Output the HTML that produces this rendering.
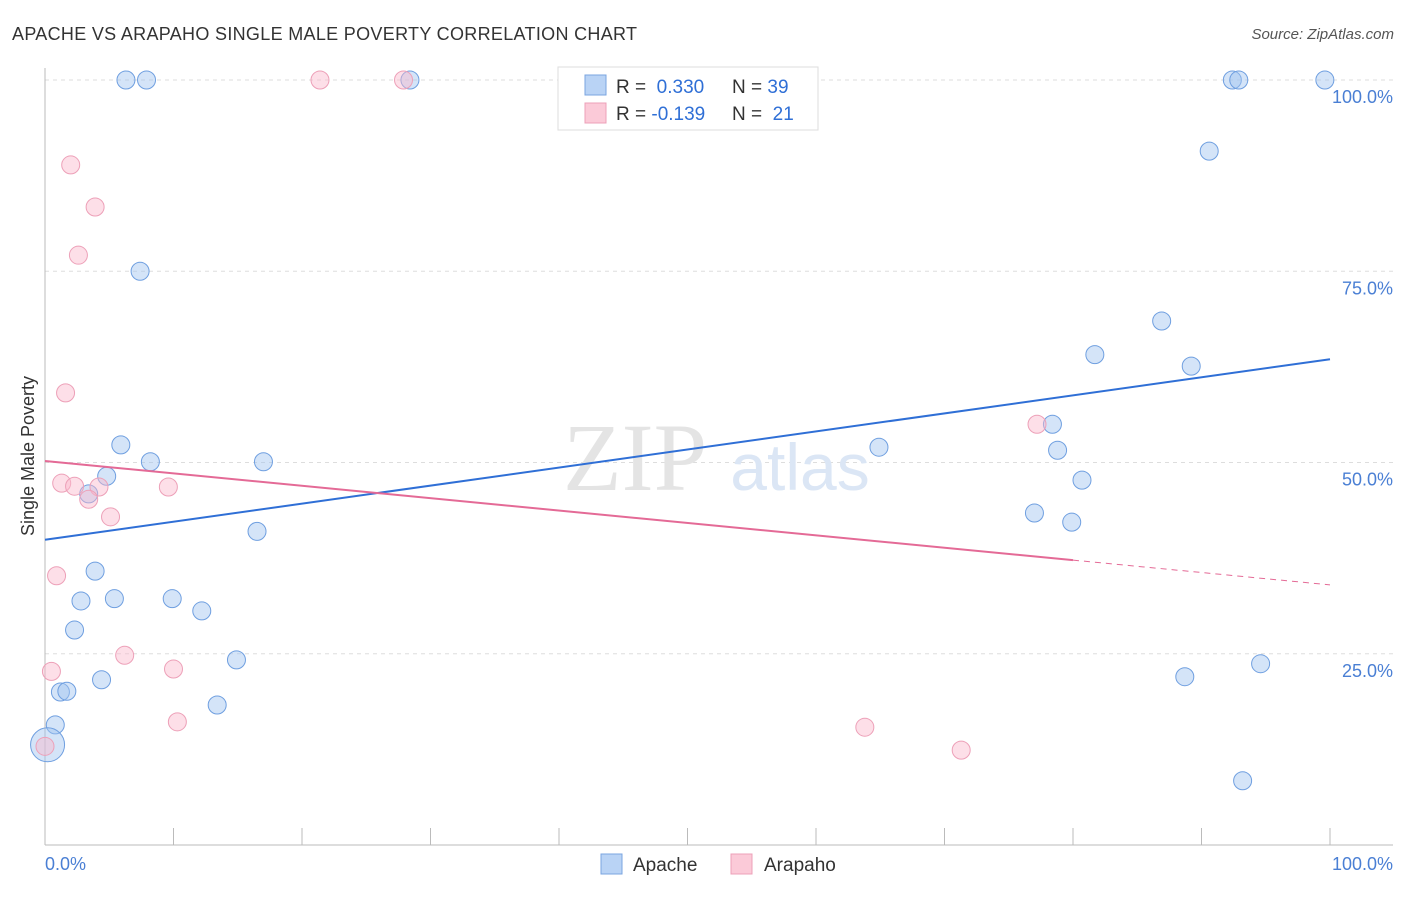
<!DOCTYPE html>
<html><head><meta charset="utf-8"><style>
body{margin:0;background:#fff;font-family:"Liberation Sans",sans-serif}
</style></head><body>
<svg width="1406" height="892" viewBox="0 0 1406 892" xmlns="http://www.w3.org/2000/svg">
<text x="12" y="40" font-size="18" fill="#333" textLength="625">APACHE VS ARAPAHO SINGLE MALE POVERTY CORRELATION CHART</text>
<text x="1394" y="39" font-size="15" fill="#555" font-style="italic" text-anchor="end">Source: ZipAtlas.com</text>
<g id="grid"></g>
<text x="635" y="490" font-size="96" font-family="Liberation Serif,serif" fill="#e4e4e4" text-anchor="middle">ZIP</text>
<text x="800" y="490" font-size="66" fill="#dbe6f5" text-anchor="middle">atlas</text>
<g id="axes"></g>
<g id="pts"></g>
<g id="lines"></g>
<text transform="translate(34,456) rotate(-90)" font-size="18" fill="#333" text-anchor="middle">Single Male Poverty</text>
<text x="45" y="870" font-size="18" fill="#4a7fd4">0.0%</text>
<text x="1393" y="870" font-size="18" fill="#4a7fd4" text-anchor="end">100.0%</text>
<g>
<rect x="558" y="67" width="260" height="63" fill="#fff" stroke="#ddd"/>
<rect x="585" y="75" width="21" height="20" fill="#b9d3f5" stroke="#7aa5e0"/>
<rect x="585" y="103" width="21" height="20" fill="#fbcad8" stroke="#eda0b8"/>
<text x="616" y="93" font-size="19" fill="#333">R = <tspan fill="#2f6fd6">&#160;0.330</tspan><tspan x="732">N = </tspan><tspan fill="#2f6fd6">39</tspan></text>
<text x="616" y="120" font-size="19" fill="#333">R = <tspan fill="#2f6fd6">-0.139</tspan><tspan x="732">N = </tspan><tspan fill="#2f6fd6">&#160;21</tspan></text>
</g>
<g>
<rect x="601" y="854" width="21" height="20" fill="#b9d3f5" stroke="#7aa5e0"/>
<text x="633" y="871" font-size="19" fill="#333">Apache</text>
<rect x="731" y="854" width="21" height="20" fill="#fbcad8" stroke="#eda0b8"/>
<text x="764" y="871" font-size="19" fill="#333">Arapaho</text>
</g>
</svg>
<script>
const yTicks=[25,50,75,100];
const yTickLabels=["25.0%","50.0%","75.0%","100.0%"];
const apacheX=[6.3,7.9,28.4,92.4,92.9,99.6,90.6,7.4,86.9,81.7,89.2,78.4,64.9,78.8,5.9,8.2,17.0,4.8,80.7,3.4,77.0,79.9,16.5,3.9,2.8,5.4,9.9,12.2,2.3,14.9,94.6,4.4,88.7,1.2,1.7,13.4,0.8,93.2,0.2];
const apacheY=[100,100,100,100,100,100,90.7,75.0,68.5,64.1,62.6,55.0,52.0,51.6,52.3,50.1,50.1,48.2,47.7,45.9,43.4,42.2,41.0,35.8,31.9,32.2,32.2,30.6,28.1,24.2,23.7,21.6,22.0,20.0,20.1,18.3,15.7,8.4,13.1];
const arapahoX=[21.4,27.9,2.0,3.9,2.6,1.6,77.2,1.3,2.3,4.2,3.4,9.6,5.1,0.9,6.2,10.0,0.5,10.3,63.8,71.3,0];
const arapahoY=[100,100,88.9,83.4,77.1,59.1,55.0,47.3,46.9,46.8,45.2,46.8,42.9,35.2,24.8,23.0,22.7,16.1,15.4,12.4,12.9];
const apacheTrend=[39.9,63.5];
const arapahoTrend=[50.2,34.0];
const arapahoSolidEnd=80;
const sx=v=>45+v*12.85, sy=v=>845-v*7.65;
const NS="http://www.w3.org/2000/svg";
function mk(tag,attrs,parent){const e=document.createElementNS(NS,tag);for(const k in attrs)e.setAttribute(k,attrs[k]);document.getElementById(parent).appendChild(e);return e;}
yTicks.forEach((t,i)=>{
 const g=mk('line',{x1:45,x2:1393,y1:sy(t),y2:sy(t),stroke:'#ddd','stroke-dasharray':'4,4'},'grid');
 
 
 const l=mk('text',{x:1393,y:sy(t)+23,'font-size':18,fill:'#4a7fd4','text-anchor':'end'},'grid');
 l.textContent=yTickLabels[i];
 
 
});
const ax=mk('line',{x1:45,x2:1393,y1:845,y2:845,stroke:'#bbb'},'axes');


const ay=mk('line',{x1:45,x2:45,y1:68,y2:845,stroke:'#bbb'},'axes');


for(let i=0;i<=10;i++){
 const t=mk('line',{x1:sx(i*10),x2:sx(i*10),y1:828,y2:845,stroke:'#bbb'},'axes');
 
 
}
apacheX.forEach((x,i)=>{
 const r=(i===apacheX.length-1)?17:9;
 const c=mk('circle',{cx:sx(x),cy:sy(apacheY[i]),r:r,fill:'rgba(160,195,240,0.45)',stroke:'#6f9fe0','stroke-width':1},'pts');
 
 
});
arapahoX.forEach((x,i)=>{
 const c=mk('circle',{cx:sx(x),cy:sy(arapahoY[i]),r:9,fill:'rgba(250,185,205,0.45)',stroke:'#eda0b8','stroke-width':1},'pts');
 
 
});
const bl=mk('line',{x1:sx(0),y1:sy(apacheTrend[0]),x2:sx(100),y2:sy(apacheTrend[1]),stroke:'#2f6fd6','stroke-width':2},'lines');


const pe=arapahoTrend[0]+(arapahoTrend[1]-arapahoTrend[0])*arapahoSolidEnd/100;
const pl=mk('line',{x1:sx(0),y1:sy(arapahoTrend[0]),x2:sx(arapahoSolidEnd),y2:sy(pe),stroke:'#e46a96','stroke-width':2},'lines');


const pd=mk('line',{x1:sx(arapahoSolidEnd),y1:sy(pe),x2:sx(100),y2:sy(arapahoTrend[1]),stroke:'#e46a96','stroke-width':1,'stroke-dasharray':'6,5'},'lines');


</script>
</body></html>
